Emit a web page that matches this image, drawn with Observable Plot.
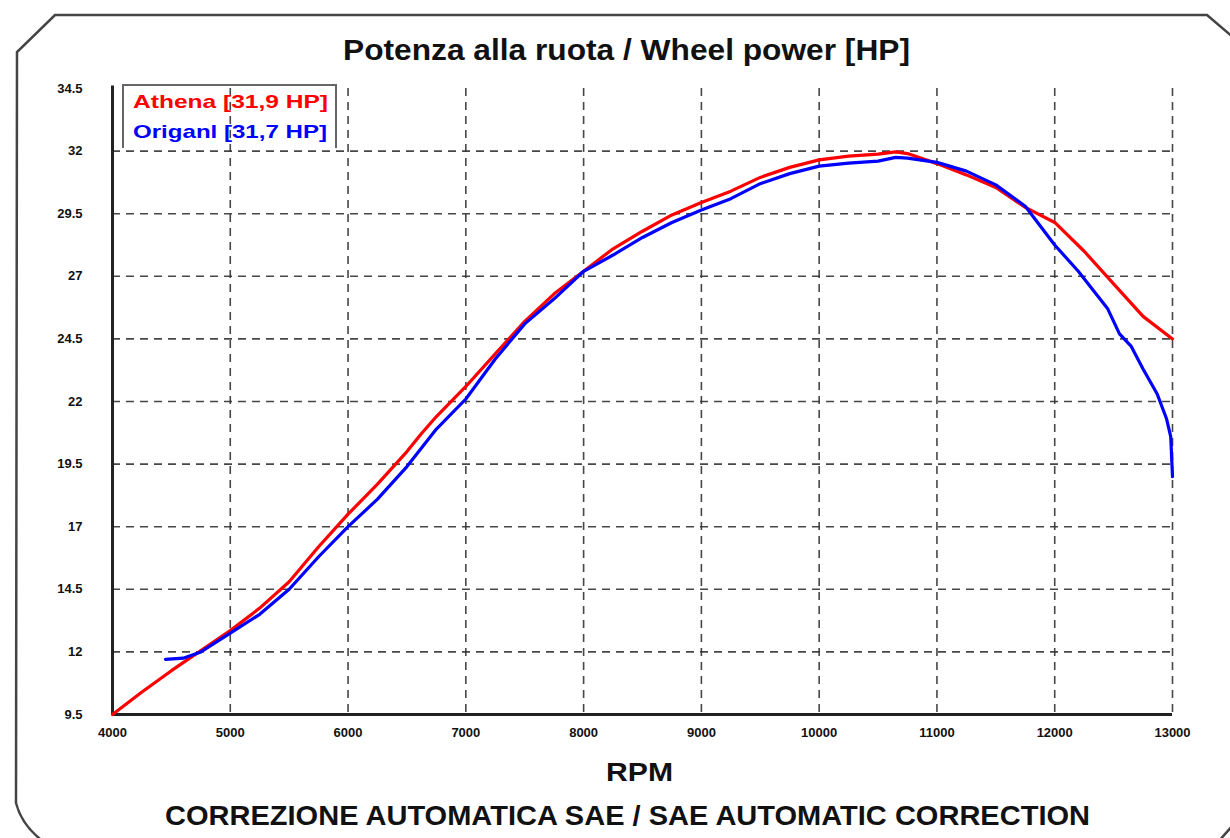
<!DOCTYPE html>
<html>
<head>
<meta charset="utf-8">
<script src="https://cdn.jsdelivr.net/npm/d3@7"></script>
<script src="https://cdn.jsdelivr.net/npm/@observablehq/plot@0.6"></script>
<style>
  html, body { margin: 0; padding: 0; background: #fff; }
  #wrap { position: relative; width: 1230px; height: 838px; overflow: hidden; font-family: "Liberation Sans", Arial, sans-serif; }
  #wrap > svg { position: absolute; left: 0; top: 0; }
  #overlay { pointer-events: none; }
</style>
</head>
<body>
<div id="wrap"></div>
<script>
// ---- data ----
const titleText = "Potenza alla ruota / Wheel power [HP]";
const xLabel = "RPM";
const captionText = "CORREZIONE AUTOMATICA SAE / SAE AUTOMATIC CORRECTION";
const seriesNames = ["Athena [31,9 HP]", "Origanl [31,7 HP]"];

const xTicks = [4000, 5000, 6000, 7000, 8000, 9000, 10000, 11000, 12000, 13000];
const yTicks = [9.5, 12, 14.5, 17, 19.5, 22, 24.5, 27, 29.5, 32, 34.5];

const athenaRpm = [4000, 4250, 4500, 4750, 5000, 5250, 5500, 5750, 6000, 6250, 6500, 6620, 6750, 7000, 7250, 7500, 7750, 8000, 8250, 8500, 8750, 9000, 9250, 9500, 9750, 10000, 10250, 10500, 10650, 10750, 11000, 11250, 11500, 11750, 12000, 12250, 12500, 12750, 13000];
const athenaHp  = [9.5, 10.4, 11.25, 12.05, 12.85, 13.75, 14.8, 16.2, 17.5, 18.7, 20.0, 20.7, 21.4, 22.6, 23.9, 25.2, 26.3, 27.2, 28.1, 28.8, 29.45, 29.95, 30.4, 30.95, 31.35, 31.65, 31.8, 31.88, 31.97, 31.9, 31.5, 31.05, 30.55, 29.75, 29.15, 28.0, 26.7, 25.4, 24.5];

const origRpm = [4450, 4600, 4750, 5000, 5250, 5500, 5750, 6000, 6250, 6500, 6750, 7000, 7250, 7500, 7750, 8000, 8250, 8500, 8750, 9000, 9250, 9500, 9750, 10000, 10250, 10500, 10650, 10750, 11000, 11250, 11500, 11750, 12000, 12200, 12350, 12450, 12550, 12650, 12750, 12870, 12950, 12985, 13000];
const origHp  = [11.7, 11.75, 12.0, 12.75, 13.5, 14.5, 15.8, 17.0, 18.1, 19.4, 20.9, 22.1, 23.7, 25.1, 26.1, 27.2, 27.85, 28.55, 29.15, 29.65, 30.1, 30.7, 31.1, 31.4, 31.52, 31.6, 31.75, 31.72, 31.55, 31.2, 30.65, 29.8, 28.25, 27.2, 26.3, 25.7, 24.7, 24.2, 23.3, 22.3, 21.3, 20.6, 19.0];

const seriesColors = ["#ff0000", "#0000ff"];

// ---- build tables ----
const athena = athenaRpm.map((r, i) => ({rpm: r, hp: athenaHp[i]}));
const orig = origRpm.map((r, i) => ({rpm: r, hp: origHp[i]}));

const gridStyle = {stroke: "#333", strokeOpacity: 0.9, strokeWidth: 1.6, strokeDasharray: "8,6"};

const chart = Plot.plot({
  width: 1230,
  height: 838,
  marginLeft: 112,
  marginRight: 58,
  marginTop: 88,
  marginBottom: 124,
  style: {fontFamily: "'Liberation Sans', Arial, sans-serif", background: "transparent", color: "#111"},
  x: {domain: [4000, 13000]},
  y: {domain: [9.5, 34.5]},
  marks: [
    Plot.gridX(xTicks.slice(1), gridStyle),
    Plot.gridY(yTicks.slice(1, -1), gridStyle),
    Plot.axisY(yTicks, {tickSize: 0, tickPadding: 30, fontSize: 13, fontWeight: "bold", label: null, tickFormat: d => String(d)}),
    Plot.axisX(xTicks, {tickSize: 0, tickPadding: 13, fontSize: 13, fontWeight: "bold", label: null, tickFormat: d => String(d)}),
    Plot.ruleX([4000], {stroke: "#222", strokeWidth: 3, y1: 9.5, y2: 34.6}),
    Plot.ruleY([9.5], {stroke: "#222", strokeWidth: 3, x1: 4000, x2: 13000}),
    Plot.line(athena, {x: "rpm", y: "hp", stroke: seriesColors[0], strokeWidth: 3.2}),
    Plot.line(orig, {x: "rpm", y: "hp", stroke: seriesColors[1], strokeWidth: 3.2})
  ]
});

const wrap = document.getElementById("wrap");
wrap.appendChild(chart);

// ---- overlay: frame, title, axis label, caption, legend ----
const ns = "http://www.w3.org/2000/svg";
const ov = document.createElementNS(ns, "svg");
ov.setAttribute("id", "overlay");
ov.setAttribute("width", 1230);
ov.setAttribute("height", 838);
wrap.appendChild(ov);

function add(tag, attrs, text) {
  const el = document.createElementNS(ns, tag);
  for (const k in attrs) el.setAttribute(k, attrs[k]);
  if (text != null) el.textContent = text;
  ov.appendChild(el);
  return el;
}

// outer frame
add("path", {
  d: "M1234,38 L1207,15 L55,15 L17,52 L16,803 Q22,826 44,842 M1218,842 L1234,824",
  fill: "none", stroke: "#444", "stroke-width": 2.5
});

const ff = "'Liberation Sans', Arial, sans-serif";
add("text", {x: 343, y: 60, "font-family": ff, "font-size": 29, "font-weight": "bold", fill: "#111",
  textLength: 567, lengthAdjust: "spacingAndGlyphs"}, titleText);
add("text", {x: 606, y: 781, "font-family": ff, "font-size": 26, "font-weight": "bold", fill: "#111",
  textLength: 67, lengthAdjust: "spacingAndGlyphs"}, xLabel);
add("text", {x: 165, y: 825, "font-family": ff, "font-size": 28, "font-weight": "bold", fill: "#111",
  textLength: 925, lengthAdjust: "spacingAndGlyphs"}, captionText);

// legend box (open at the bottom)
add("path", {d: "M123,148 L123,85 L336,85 L336,148", fill: "none", stroke: "#666", "stroke-width": 2});
add("text", {x: 133, y: 108, "font-family": ff, "font-size": 19, "font-weight": "bold", fill: seriesColors[0],
  textLength: 195, lengthAdjust: "spacingAndGlyphs"}, seriesNames[0]);
add("text", {x: 133, y: 138, "font-family": ff, "font-size": 19, "font-weight": "bold", fill: seriesColors[1],
  textLength: 194, lengthAdjust: "spacingAndGlyphs"}, seriesNames[1]);
</script>
</body>
</html>
